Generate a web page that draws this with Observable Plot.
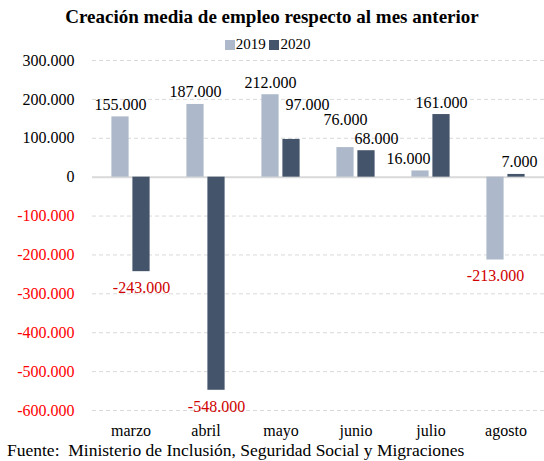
<!DOCTYPE html>
<html><head><meta charset="utf-8">
<script src="https://cdn.jsdelivr.net/npm/d3@7"></script>
<script src="https://cdn.jsdelivr.net/npm/@observablehq/plot@0.6"></script>
<style>
body{margin:0;background:#fff;font-family:"Liberation Serif","Times New Roman",serif;color:#000;}
#wrap{width:544px;}
#title{height:34px;line-height:34px;text-align:center;font-weight:bold;font-size:19px;}
#legend{height:20px;line-height:20px;text-align:center;font-size:15px;position:relative;z-index:2;padding-right:9px;}
.sw{display:inline-block;width:10px;height:10px;margin-right:1px;vertical-align:-1px;}
#chart{margin-top:-10px;position:relative;z-index:1;}
#chart svg, #chart svg text{font-family:"Liberation Serif","Times New Roman",serif !important;}
#caption{height:20px;line-height:20px;font-size:17.5px;white-space:pre;padding-left:7px;}
</style></head><body>
<div id="wrap">
<div id="title">Creación media de empleo respecto al mes anterior</div>
<div id="legend"><span class="sw" style="background:#ADB9CA"></span>2019 <span class="sw" style="background:#44546A"></span>2020</div>
<div id="chart"></div>
<div id="caption">Fuente:  Ministerio de Inclusión, Seguridad Social y Migraciones</div>
</div>
<script>
const months = ["marzo", "abril", "mayo", "junio", "julio", "agosto"];
const years = ["2019", "2020"];
const values2019 = [155000, 187000, 212000, 76000, 16000, -213000];
const values2020 = [-243000, -548000, 97000, 68000, 161000, 7000];
const yTicks = [-600000, -500000, -400000, -300000, -200000, -100000, 0, 100000, 200000, 300000];
const seriesColors = ["#ADB9CA", "#44546A"];

const data = months.flatMap((m, i) => [
  {month: m, year: years[0], value: values2019[i]},
  {month: m, year: years[1], value: values2020[i]}
]);

const loc = d3.formatLocale({decimal: ",", thousands: ".", grouping: [3], currency: ["", "€"], minus: "-"});
const fmt = loc.format(",");
const FONT = "Liberation Serif";

const OFF = 10.5;   // half distance between paired bars
const INSET = 28.9; // makes bars ~17.5px wide
const s19 = data.filter(d => d.year === "2019");
const s20 = data.filter(d => d.year === "2020");

function labelMarks(rows, baseDx) {
  const marks = [];
  const key = d => d.month + "-" + d.year;
  const special = {
    "mayo-2020": [16, -22],
    "junio-2019": [0, -16],
    "junio-2020": [10, 0],
    "julio-2019": [-12, 0],
    "agosto-2020": [3, 0]
  };
  const normalPos = rows.filter(d => d.value >= 0 && !special[key(d)]);
  const neg = rows.filter(d => d.value < 0);
  marks.push(Plot.text(normalPos, {x: "month", y: "value", text: d => fmt(d.value), dx: baseDx, dy: -7, lineAnchor: "bottom", fill: "#000", fontFamily: FONT, fontSize: 16}));
  marks.push(Plot.text(neg, {x: "month", y: "value", text: d => fmt(d.value), dx: baseDx, dy: 10, lineAnchor: "top", fill: "#D00000", fontFamily: FONT, fontSize: 16}));
  for (const d of rows.filter(d => special[key(d)])) {
    const [ddx, ddy] = special[key(d)];
    marks.push(Plot.text([d], {x: "month", y: "value", text: r => fmt(r.value), dx: baseDx + ddx, dy: -7 + ddy, lineAnchor: "bottom", fill: "#000", fontFamily: FONT, fontSize: 16}));
  }
  return marks;
}

const chart = Plot.plot({
  width: 544,
  height: 396,
  marginTop: 16,
  marginBottom: 30,
  marginLeft: 92,
  marginRight: 0,
  style: {fontFamily: FONT, fontSize: "16px", background: "transparent", color: "#000"},
  x: {domain: months, padding: 0, axis: null},
  y: {domain: [-600000, 300000], axis: null},
  color: {domain: years, range: seriesColors},
  marks: [
    Plot.ruleY(yTicks.filter(t => t !== 0), {stroke: "#D9D9D9", strokeDasharray: "4,3", strokeWidth: 1}),
    Plot.ruleY([0], {stroke: "#D9D9D9", strokeWidth: 2}),
    Plot.barY(s19, {x: "month", y: "value", fill: "year", insetLeft: INSET, insetRight: INSET, dx: -OFF}),
    Plot.barY(s20, {x: "month", y: "value", fill: "year", insetLeft: INSET, insetRight: INSET, dx: OFF}),
    Plot.text(yTicks, {y: d => d, frameAnchor: "left", textAnchor: "end", dx: -18, text: d => fmt(d), fill: d => d < 0 ? "#FF0000" : "#000", fontFamily: FONT, fontSize: 16}),
    Plot.text(months, {x: d => d, frameAnchor: "bottom", lineAnchor: "middle", dy: 20, text: d => d, fill: "#000", fontFamily: FONT, fontSize: 16}),
    ...labelMarks(s19, -OFF),
    ...labelMarks(s20, OFF)
  ]
});
document.getElementById("chart").appendChild(chart);
</script>
</body></html>
